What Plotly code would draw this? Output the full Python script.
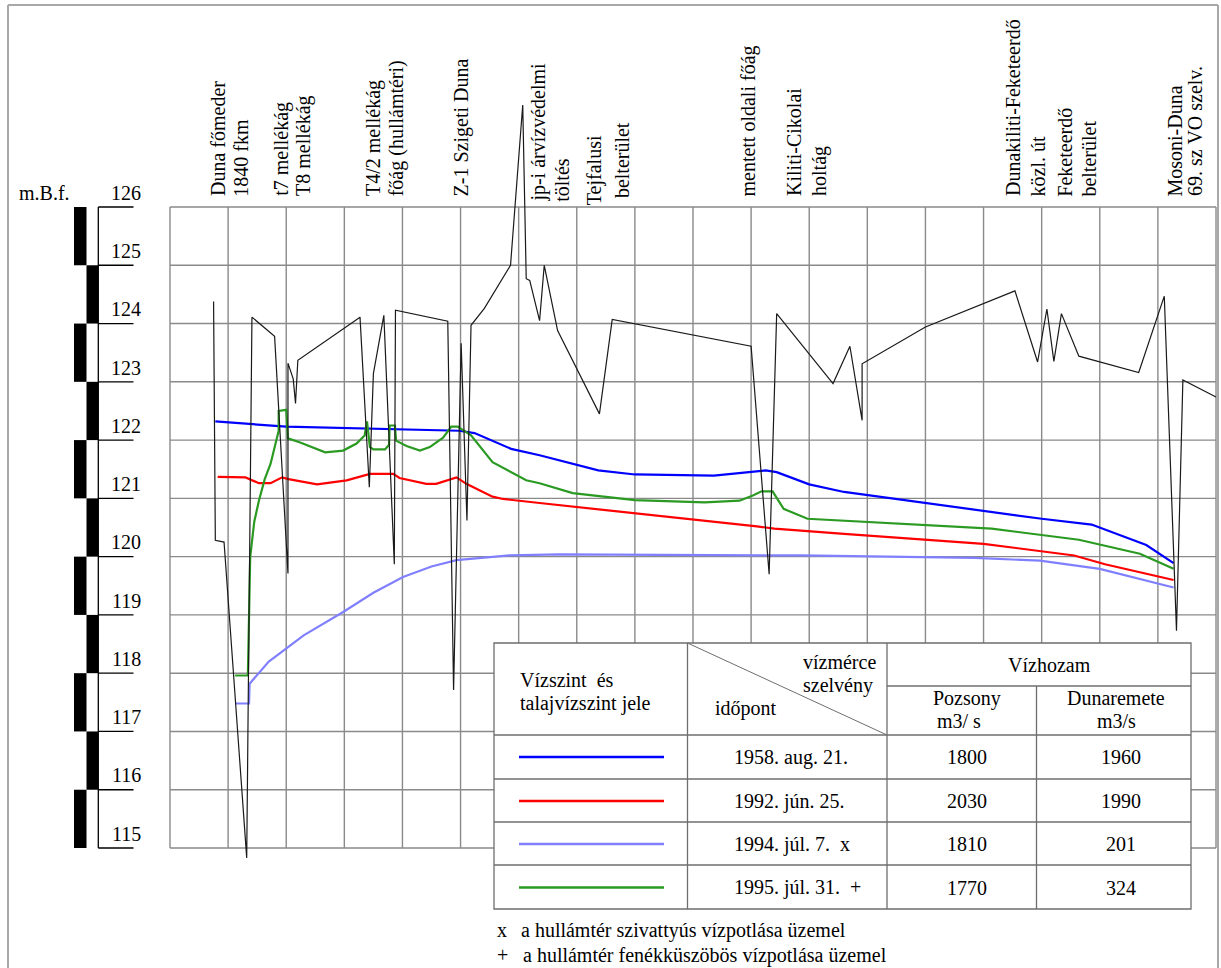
import plotly.graph_objects as go

# ---------------- data (x = position along the cross-section in grid units 0-18, y = level in m.B.f.)
ground_x = [0.75, 0.78, 0.93, 1.32, 1.41, 1.80, 2.03, 2.03, 2.12, 2.16, 2.20,
            3.27, 3.43, 3.50, 3.68, 3.86, 3.88, 4.78, 4.88, 5.01, 5.11,
            5.18, 5.41, 5.86, 6.07, 6.13, 6.19, 6.36, 6.44, 6.67, 7.39,
            7.61, 10.00, 10.31, 10.44, 11.41, 11.70, 11.91, 11.91, 13.00, 14.54,
            14.93, 15.09, 15.21, 15.34, 15.64, 16.67, 17.11, 17.32, 17.43, 18.00]
ground_y = [124.38, 120.28, 120.25, 114.83, 124.11, 123.78, 119.71, 123.32, 123.05, 122.63, 123.37,
            124.11, 121.19, 123.14, 124.14, 119.87, 124.23, 124.04, 117.71, 123.66, 120.62,
            123.97, 124.26, 125.00, 127.75, 124.77, 124.74, 124.05, 125.00, 123.88, 122.45,
            124.07, 123.61, 119.70, 124.17, 122.97, 123.61, 122.34, 123.31, 123.94, 124.56,
            123.34, 124.25, 123.35, 124.17, 123.44, 123.16, 124.47, 118.73, 123.03, 122.74]

x_1958 = [0.78, 2.00, 4.98, 5.24, 5.87, 6.36, 7.37, 8.00, 9.36, 10.25, 10.44, 11.00, 11.60,
          14.00, 15.00, 15.86, 16.80, 17.27]
y_1958 = [122.32, 122.23, 122.16, 122.12, 121.85, 121.74, 121.48, 121.41, 121.39, 121.48, 121.45,
          121.24, 121.11, 120.78, 120.65, 120.55, 120.20, 119.89]

x_1992 = [0.82, 1.30, 1.53, 1.73, 1.93, 2.04, 2.53, 3.04, 3.44, 3.84, 3.95, 4.41, 4.58, 4.93,
          5.10, 5.55, 5.73, 6.36, 10.10, 10.40, 11.60, 14.00, 15.56, 16.09, 17.27]
y_1992 = [121.37, 121.36, 121.26, 121.26, 121.36, 121.33, 121.24, 121.31, 121.42, 121.42, 121.35,
          121.25, 121.25, 121.36, 121.25, 121.03, 120.99, 120.92, 120.52, 120.48, 120.39, 120.22,
          120.02, 119.87, 119.60]

x_1994 = [1.12, 1.36, 1.37, 1.70, 2.30, 2.98, 3.50, 4.01, 4.50, 4.93, 5.84, 6.70, 10.85, 13.84,
          14.97, 16.00, 17.27]
y_1994 = [117.48, 117.48, 117.82, 118.20, 118.65, 119.05, 119.38, 119.65, 119.83, 119.94, 120.02,
          120.04, 120.02, 119.98, 119.93, 119.79, 119.47]

x_1995 = [1.12, 1.34, 1.38, 1.45, 1.53, 1.63, 1.73, 1.87, 1.87, 2.00, 2.03, 2.24, 2.67, 2.98,
          3.21, 3.35, 3.39, 3.44, 3.50, 3.70, 3.77, 3.78, 3.87, 3.89, 4.07, 4.30, 4.47, 4.70,
          4.84, 4.95, 5.18, 5.55, 6.13, 6.36, 6.93, 8.00, 9.20, 9.80, 10.03, 10.18, 10.37, 10.56,
          10.97, 14.14, 15.64, 16.69, 17.27]
y_1995 = [117.96, 117.96, 119.99, 120.60, 120.96, 121.33, 121.59, 122.16, 122.50, 122.52, 122.03,
          121.96, 121.79, 121.82, 121.94, 122.08, 122.32, 121.88, 121.84, 121.84, 121.92, 122.25,
          122.25, 121.99, 121.90, 121.82, 121.88, 122.04, 122.23, 122.23, 122.08, 121.62, 121.31,
          121.26, 121.09, 120.97, 120.93, 120.96, 121.05, 121.12, 121.12, 120.82, 120.65, 120.48,
          120.29, 120.05, 119.79]

section_labels = ["Duna főmeder", "1840 fkm", "t7 mellékág", "T8 mellékág", "T4/2 mellékág",
                  "főág (hullámtéri)", "Z-1 Szigeti Duna", "jp-i árvízvédelmi", "töltés",
                  "Tejfalusi", "belterület", "mentett oldali főág", "Kiliti-Cikolai", "holtág",
                  "Dunakiliti-Feketeerdő", "közl. út", "Feketeerdő", "belterület",
                  "Mosoni-Duna", "69. sz VO szelv."]
section_pos = [0.83, 1.23, 1.92, 2.31, 3.49, 3.89, 5.01, 6.35, 6.74, 7.30, 7.78, 9.96, 10.75,
               11.18, 14.51, 14.94, 15.40, 15.82, 17.29, 17.65]
section_base = [126.15, 126.15, 126.15, 126.15, 126.15, 126.15, 126.15, 126.05, 126.05, 126.0,
                126.12, 126.15, 126.15, 126.15, 126.15, 126.15, 126.15, 126.15, 126.15, 126.15]

level_ticks = list(range(115, 127))
section_grid = list(range(0, 19))

dates = ["1958. aug. 21.", "1992. jún. 25.", "1994. júl. 7.\u00a0 x", "1995. júl. 31.\u00a0 +"]
q_pozsony = [1800, 2030, 1810, 1770]
q_dunaremete = [1960, 1990, 201, 324]
series_colors = ["#0000ff", "#ff0000", "#8080ff", "#2a9a22"]

# ---------------- geometry helpers (pixel -> data) ----------------
W, H = 1221, 968
PXX = (1216 - 170) / 18.0
PXY = (848 - 207) / 11.0


def dx(px):
    return (px - 170) / PXX


def dy(py):
    return 126 - (py - 207) / PXY


FONT = "Liberation Serif, Times New Roman, serif"
GRID = "#8a8a8a"
TBL = "#6e6e6e"

fig = go.Figure()

series = [(x_1958, y_1958), (x_1992, y_1992), (x_1994, y_1994), (x_1995, y_1995)]
for (xs, ys), col, d in zip(series, series_colors, dates):
    fig.add_trace(go.Scatter(x=xs, y=ys, mode="lines", line=dict(color=col, width=2.2),
                             name=d, hoverinfo="skip"))
fig.add_trace(go.Scatter(x=ground_x, y=ground_y, mode="lines",
                         line=dict(color="#1a1a1a", width=1.2), name="terep", hoverinfo="skip"))

shapes = []
# grid
for v in level_ticks:
    shapes.append(dict(type="line", xref="x", yref="y", x0=0, x1=18, y0=v, y1=v,
                       line=dict(color=GRID, width=1.4), layer="below"))
for s in section_grid:
    shapes.append(dict(type="line", xref="x", yref="y", x0=s, x1=s, y0=115, y1=126,
                       line=dict(color=GRID, width=1.4), layer="below"))

# left scale bar
for k, v in enumerate(level_ticks[:-1]):
    left_black = ((126 - (v + 1)) % 2 == 0)
    xa, xb = (dx(74), dx(86.5)) if left_black else (dx(86.5), dx(98.3))
    shapes.append(dict(type="rect", xref="x", yref="y", x0=xa, x1=xb, y0=v, y1=v + 1,
                       fillcolor="black", line=dict(width=0), layer="below"))
shapes.append(dict(type="line", xref="x", yref="y", x0=dx(98.3), x1=dx(98.3), y0=115, y1=126,
                   line=dict(color="black", width=1.3)))
for v in level_ticks:
    shapes.append(dict(type="line", xref="x", yref="y", x0=dx(98.3), x1=dx(133.5), y0=v, y1=v,
                       line=dict(color="black", width=1.3)))

# outer frame
frame = dict(color="#a8a8a8", width=2)
shapes.append(dict(type="line", xref="x", yref="y", x0=dx(8), x1=dx(8), y0=dy(5), y1=dy(975), line=frame))
shapes.append(dict(type="line", xref="x", yref="y", x0=dx(8), x1=dx(1218), y0=dy(5), y1=dy(5), line=frame))
shapes.append(dict(type="line", xref="x", yref="y", x0=dx(1218), x1=dx(1218), y0=dy(5), y1=dy(975), line=frame))

# table
TL, TR, TT, TB = 494, 1191, 643, 909
C1, C2, C3 = 687.5, 887, 1036.5
HSUB = 686
ROWS = [735, 779, 822, 865]
ROWC = [757, 801, 844, 887.5]
tl = dict(color=TBL, width=1.3)
shapes.append(dict(type="rect", xref="x", yref="y", x0=dx(TL), x1=dx(TR), y0=dy(TB), y1=dy(TT),
                   fillcolor="white", line=tl, layer="above"))
for c in (C1, C2):
    shapes.append(dict(type="line", xref="x", yref="y", x0=dx(c), x1=dx(c), y0=dy(TT), y1=dy(TB),
                       line=tl, layer="above"))
shapes.append(dict(type="line", xref="x", yref="y", x0=dx(C3), x1=dx(C3), y0=dy(HSUB), y1=dy(TB),
                   line=tl, layer="above"))
shapes.append(dict(type="line", xref="x", yref="y", x0=dx(C2), x1=dx(TR), y0=dy(HSUB), y1=dy(HSUB),
                   line=tl, layer="above"))
for r in ROWS:
    shapes.append(dict(type="line", xref="x", yref="y", x0=dx(TL), x1=dx(TR), y0=dy(r), y1=dy(r),
                       line=tl, layer="above"))
shapes.append(dict(type="line", xref="x", yref="y", x0=dx(C1), x1=dx(C2), y0=dy(TT), y1=dy(ROWS[0]),
                   line=dict(color=TBL, width=1), layer="above"))
for rc, col in zip(ROWC, series_colors):
    shapes.append(dict(type="line", xref="x", yref="y", x0=dx(519), x1=dx(664), y0=dy(rc), y1=dy(rc),
                       line=dict(color=col, width=2.6), layer="above"))

ann = []


def text(t, x, y, xa="left", ya="middle", angle=0, size=20):
    ann.append(dict(text=t, x=x, y=y, xref="x", yref="y", xanchor=xa, yanchor=ya,
                    showarrow=False, textangle=angle, font=dict(family=FONT, size=size, color="black")))


# section labels (rotated)
for lab, pos, base in zip(section_labels, section_pos, section_base):
    text(lab, pos, base, xa="center", ya="bottom", angle=-90)

# scale labels
text("m.B.f.", dx(17), dy(193), xa="left")
for v in level_ticks:
    text(str(v), dx(143), v + 0.245, xa="right")

# table texts
text("Vízszint\u00a0 és", dx(518), dy(679.5))
text("talajvízszint jele", dx(518), dy(703))
text("vízmérce", dx(878), dy(662), xa="right")
text("szelvény", dx(875), dy(685), xa="right")
text("időpont", dx(713), dy(708))
text("Vízhozam", dx(1049), dy(665), xa="center")
text("Pozsony", dx(967), dy(698), xa="center")
text("m3/ s", dx(959), dy(721), xa="center")
text("Dunaremete", dx(1116), dy(698), xa="center")
text("m3/s", dx(1116), dy(721), xa="center")
for rc, d, qp, qd in zip(ROWC, dates, q_pozsony, q_dunaremete):
    text(d, dx(732), dy(rc))
    text(str(qp), dx(967), dy(rc), xa="center")
    text(str(qd), dx(1121), dy(rc), xa="center")

# notes
text("x", dx(495), dy(930))
text("a hullámtér szivattyús vízpotlása üzemel", dx(519), dy(930))
text("+", dx(495), dy(955))
text("a hullámtér fenékküszöbös vízpotlása üzemel", dx(521), dy(955))

fig.update_layout(
    width=W, height=H, margin=dict(l=0, r=0, t=0, b=0, pad=0),
    paper_bgcolor="white", plot_bgcolor="white", showlegend=False,
    xaxis=dict(range=[dx(0), dx(W)], visible=False, fixedrange=True),
    yaxis=dict(range=[dy(H), dy(0)], visible=False, fixedrange=True),
    shapes=shapes, annotations=ann,
)

fig.write_html("out.html", config={"displayModeBar": False},
               post_script="document.body.style.margin='0';document.body.style.overflow='hidden';")
